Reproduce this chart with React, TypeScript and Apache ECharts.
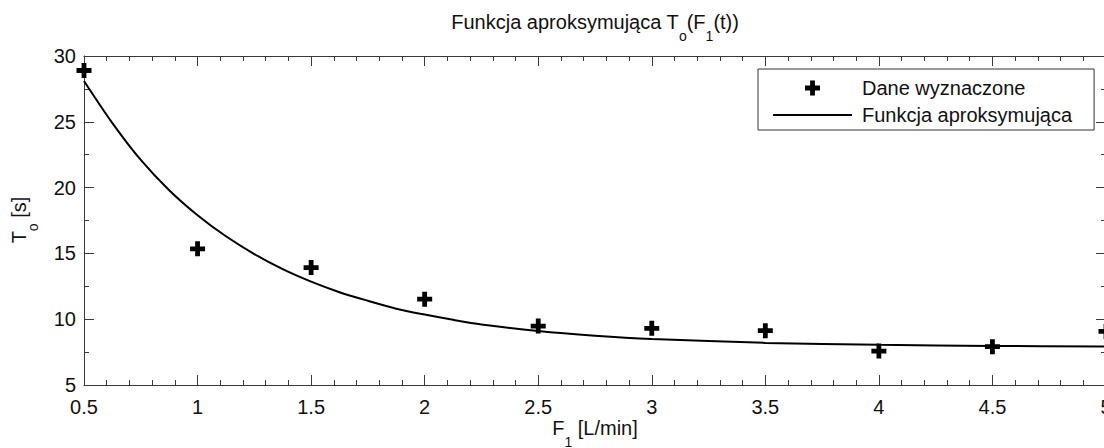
import React, { useEffect, useRef } from "react";
import * as echarts from "echarts";

// Measured data points (F1 [L/min] vs To [s])
const dataX = [0.5, 1, 1.5, 2, 2.5, 3, 3.5, 4, 4.5, 5];
const dataY = [28.9, 15.35, 13.92, 11.52, 9.48, 9.31, 9.13, 7.58, 7.91, 9.07];

// Approximating curve
const curveX = [0.5, 0.625, 0.75, 0.875, 1, 1.125, 1.25, 1.375, 1.5, 1.625, 1.75, 1.875, 2, 2.125, 2.25, 2.5, 2.75, 3, 3.5, 4, 4.5, 5];
const curveY = [28.1, 24.9, 22.1, 19.8, 17.9, 16.3, 14.95, 13.8, 12.85, 12.05, 11.4, 10.8, 10.35, 9.95, 9.6, 9.1, 8.75, 8.5, 8.2, 8.05, 7.97, 7.92];

const seriesNames = ["Dane wyznaczone", "Funkcja aproksymująca"];
const titleText = "{a|Funkcja aproksymująca T}{s|o}{a|(F}{s|1}{a|(t))}";
const xNameText = "{a|F}{s|1}{a| [L/min]}";
const yNameText = "{a|T}{s|o}{a| [s]}";

const FONT = "'Liberation Sans', Arial, Helvetica, sans-serif";
const PLUS = "path://M3.4,0H6.6V3.4H10V6.6H6.6V10H3.4V6.6H0V3.4H3.4Z";
const LINE_ICON = "path://M0,0H79V2H0Z";
const AXIS_COLOR = "#3a3a3a";
const LABEL_COLOR = "#111";

const rich = {
  a: { fontSize: 20, lineHeight: 22, verticalAlign: "top", fontFamily: FONT, fill: "#111", color: "#111" },
  s: { fontSize: 14, lineHeight: 14, padding: [17, 0, 0, 0], verticalAlign: "top", fontFamily: FONT, fill: "#111", color: "#111" },
};

export default function App() {
  const ref = useRef<HTMLDivElement>(null);
  useEffect(() => {
    if (!ref.current) return;
    const chart = echarts.init(ref.current, undefined, { renderer: "svg" });
    const baseAxis = {
      type: "value" as const,
      axisLine: { show: true, lineStyle: { color: AXIS_COLOR, width: 1 } },
      axisTick: { show: true, inside: true, length: 10, lineStyle: { color: AXIS_COLOR } },
      minorTick: { show: true, length: 5, lineStyle: { color: AXIS_COLOR } },
      splitLine: { show: false },
      minorSplitLine: { show: false },
    };
    chart.setOption({
      animation: false,
      backgroundColor: "#fff",
      grid: { left: 84, top: 56, right: 14, bottom: 63 },
      xAxis: [
        {
          ...baseAxis,
          position: "bottom",
          min: 0.5,
          max: 5,
          interval: 0.5,
          minorTick: { ...baseAxis.minorTick, splitNumber: 5 },
          axisLabel: { fontSize: 20, color: LABEL_COLOR, margin: 12, fontFamily: FONT },
        },
        {
          ...baseAxis,
          position: "top",
          min: 0.5,
          max: 5,
          interval: 0.5,
          minorTick: { ...baseAxis.minorTick, splitNumber: 5 },
          axisLabel: { show: false },
        },
      ],
      yAxis: [
        {
          ...baseAxis,
          position: "left",
          min: 5,
          max: 30,
          interval: 5,
          minorTick: { ...baseAxis.minorTick, splitNumber: 2 },
          axisLabel: { fontSize: 20, color: LABEL_COLOR, margin: 8, fontFamily: FONT },
        },
        {
          ...baseAxis,
          position: "right",
          min: 5,
          max: 30,
          interval: 5,
          minorTick: { ...baseAxis.minorTick, splitNumber: 2 },
          axisLabel: { show: false },
        },
      ],
      legend: {
        orient: "vertical",
        left: 758,
        top: 69,
        align: "left",
        itemWidth: 79,
        itemHeight: 15,
        itemGap: 7,
        padding: [9, 22, 5, 15],
        borderColor: "#333",
        borderWidth: 1,
        backgroundColor: "#fff",
        textStyle: { fontSize: 20, color: "#111", fontFamily: FONT, padding: [0, 0, 0, 5] },
        data: [
          { name: seriesNames[0], icon: PLUS },
          { name: seriesNames[1], icon: LINE_ICON },
        ],
      },
      series: [
        {
          name: seriesNames[1],
          type: "line",
          xAxisIndex: 0,
          yAxisIndex: 0,
          data: curveX.map((x, i) => [x, curveY[i]]),
          symbol: "none",
          smooth: 0.3,
          lineStyle: { color: "#000", width: 2 },
          itemStyle: { color: "#000" },
          z: 2,
        },
        {
          name: seriesNames[0],
          type: "scatter",
          xAxisIndex: 0,
          yAxisIndex: 0,
          data: dataX.map((x, i) => [x, dataY[i]]),
          symbol: PLUS,
          symbolSize: 15,
          itemStyle: { color: "#000", opacity: 1 },
          z: 3,
        },
      ],
      graphic: [
        {
          type: "text",
          x: 595,
          y: 12,
          style: { text: titleText, rich, align: "center", verticalAlign: "top", fill: "#111" },
        },
        {
          type: "text",
          x: 595,
          y: 418,
          style: { text: xNameText, rich, align: "center", verticalAlign: "top", fill: "#111" },
        },
        {
          type: "text",
          x: 20,
          y: 220,
          rotation: Math.PI / 2,
          style: { text: yNameText, rich, align: "center", verticalAlign: "middle", fill: "#111" },
        },
      ],
    });
    return () => chart.dispose();
  }, []);
  return (
    <div style={{ position: "absolute", left: 0, top: 0, width: 1104, height: 448, overflow: "hidden", background: "#fff" }}>
      <div ref={ref} style={{ width: 1120, height: 448 }} />
    </div>
  );
}
